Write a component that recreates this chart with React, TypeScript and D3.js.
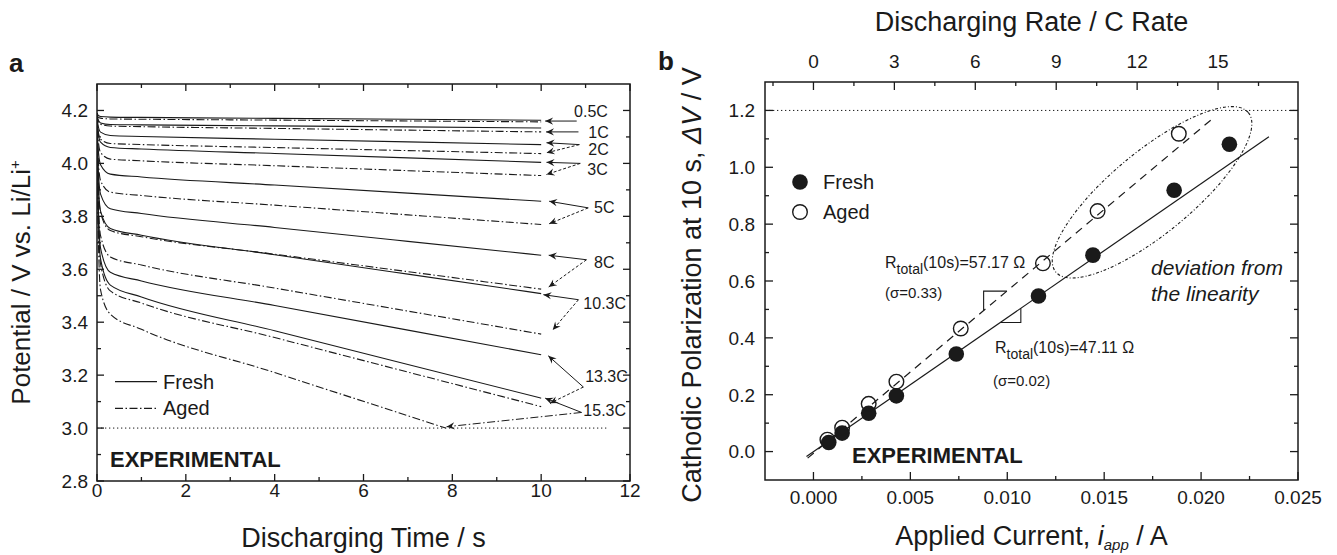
import React from "react";
import * as d3 from "d3";

// ---------------- Panel a data ----------------
const TIMES = [0, 0.02, 0.08, 0.3, 1, 4, 7, 10];
const RATE_LABELS = ["0.5C", "1C", "2C", "3C", "5C", "8C", "10.3C", "13.3C", "15.3C"];
const FRESH_V = [
  [4.19, 4.183, 4.177, 4.175, 4.1738, 4.1702, 4.1666, 4.163],
  [4.19, 4.168, 4.153, 4.147, 4.1457, 4.1418, 4.1379, 4.134],
  [4.19, 4.148, 4.118, 4.1052, 4.1016, 4.0914, 4.0812, 4.071],
  [4.19, 4.125, 4.08, 4.0603, 4.0544, 4.0376, 4.0208, 4.004],
  [4.19, 4.07, 3.995, 3.9595, 3.9488, 3.9182, 3.8876, 3.857],
  [4.19, 4.01, 3.884, 3.8289, 3.8105, 3.758, 3.7055, 3.653],
  [4.19, 3.97, 3.82, 3.7542, 3.7285, 3.655, 3.5815, 3.508],
  [4.19, 3.9, 3.68, 3.5886, 3.556, 3.463, 3.37, 3.277],
  [4.19, 3.86, 3.639, 3.5401, 3.4955, 3.368, 3.2405, 3.113],
];
const AGED_V = [
  [4.185, 4.176, 4.171, 4.168, 4.1669, 4.1636, 4.1603, 4.157],
  [4.185, 4.163, 4.148, 4.1411, 4.1388, 4.1322, 4.1256, 4.119],
  [4.185, 4.13, 4.092, 4.0752, 4.0712, 4.0598, 4.0484, 4.037],
  [4.185, 4.1, 4.041, 4.0163, 4.0098, 3.9912, 3.9726, 3.954],
  [4.185, 4.04, 3.935, 3.8916, 3.8788, 3.8422, 3.8056, 3.769],
  [4.185, 3.96, 3.813, 3.7461, 3.723, 3.657, 3.591, 3.525],
  [4.185, 3.91, 3.727, 3.6465, 3.616, 3.529, 3.442, 3.355],
  [4.185, 3.84, 3.62, 3.5182, 3.4725, 3.342, 3.2115, 3.081],
];
const AGED_LAST_TIMES = [0, 0.02, 0.08, 0.3, 1, 4, 7, 7.85];
const AGED_LAST_V = [4.185, 3.8, 3.522, 3.4305, 3.3733, 3.2098, 3.0463, 3.0];

const CUTOFF_V = 3.0;
const CUTOFF_T_END = 11.5;

// rate label positions [t, V] (text left edge, vertical centre)
const LABEL_POS = [
  [10.74, 4.197], [11.06, 4.118], [11.06, 4.052], [11.04, 3.979], [11.19, 3.836],
  [11.19, 3.626], [10.95, 3.472], [10.99, 3.195], [10.95, 3.069],
];
const ARROW_FROM = [
  [10.8, 4.16], [10.84, 4.119], [10.86, 4.071], [10.88, 4.0], [11.06, 3.832],
  [11.02, 3.636], [10.84, 3.485], [10.95, 3.155], [10.91, 3.059],
];
const ARROW_FRESH_TO = [
  [10.09, 4.16], [10.11, 4.119], [10.12, 4.078], [10.12, 4.004], [10.18, 3.857],
  [10.17, 3.653], [10.05, 3.504], [10.16, 3.273], [10.09, 3.113],
];
const ARROW_AGED_TO: (number[] | null)[] = [
  null, null, [10.12, 4.04], [10.12, 3.958], [10.18, 3.772],
  [10.17, 3.533], [10.26, 3.371], [10.2, 3.094], [7.87, 3.005],
];

const XA_MAJOR = [0, 2, 4, 6, 8, 10, 12];
const XA_MINOR = [1, 3, 5, 7, 9, 11];
const YA_MAJOR = [2.8, 3.0, 3.2, 3.4, 3.6, 3.8, 4.0, 4.2];
const YA_MINOR = [2.9, 3.1, 3.3, 3.5, 3.7, 3.9, 4.1];

// ---------------- Panel b data ----------------
const CURRENT_FRESH = [0.00079, 0.00148, 0.00285, 0.00428, 0.00737, 0.01161, 0.01442, 0.01861, 0.02146];
const DV_FRESH = [0.032, 0.065, 0.135, 0.196, 0.343, 0.547, 0.691, 0.919, 1.081];
const CURRENT_AGED = [0.00072, 0.00148, 0.00285, 0.00428, 0.0076, 0.01184, 0.01466, 0.01885];
const DV_AGED = [0.042, 0.084, 0.168, 0.246, 0.433, 0.662, 0.846, 1.118];

const R_FRESH = 47.11;
const R_AGED = 57.17;
const B_FRESH = 0.0;
const B_AGED = -0.006;
const FIT_FRESH_RANGE = [-0.00036, 0.0235];
const FIT_AGED_RANGE = [-0.0003, 0.0205];
const TRI_FRESH_X = [0.00964, 0.0107];
const TRI_AGED_X = [0.00878, 0.00998];
const ONE_C_CURRENT = 0.0013917; // A per 1C
const LIMIT_DV = 1.2;

const ELLIPSE_CENTER = [0.01747, 0.912];

const XB_MAJOR = [0, 0.005, 0.01, 0.015, 0.02, 0.025];
const XB_MINOR = [0.0025, 0.0075, 0.0125, 0.0175, 0.0225];
const CB_MAJOR = [0, 3, 6, 9, 12, 15];
const CB_MINOR = [-1.5, 1.5, 4.5, 7.5, 10.5, 13.5, 16.5];
const YB_MAJOR = [0, 0.2, 0.4, 0.6, 0.8, 1.0, 1.2];
const YB_MINOR = [0.1, 0.3, 0.5, 0.7, 0.9, 1.1];

// ---------------- layout ----------------
const FONT = "'Liberation Sans', Arial, Helvetica, sans-serif";
const A = { left: 97, right: 630, top: 84, bottom: 481 };
const B = { left: 765, right: 1298, top: 82, bottom: 480 };

const xA = d3.scaleLinear().domain([0, 12]).range([A.left, A.right]);
const yA = d3.scaleLinear().domain([2.8, 4.3]).range([A.bottom, A.top]);
const xB = d3.scaleLinear().domain([-0.0025, 0.025]).range([B.left, B.right]);
const yB = d3.scaleLinear().domain([-0.1, 1.3]).range([B.bottom, B.top]);
const cB = d3
  .scaleLinear()
  .domain([-0.0025 / ONE_C_CURRENT, 0.025 / ONE_C_CURRENT])
  .range([B.left, B.right]);

const DASHDOT = "8,2.5,1.5,2.5";
const INK = "#1a1a1a";

function Frame({ box, xs, ys, xMaj, xMin, yMaj, yMin, topScale, topMaj, topMin, maj, min }: any) {
  const els: any[] = [];
  const sw = 1.3;
  xMaj.forEach((v: number, i: number) => {
    const x = xs(v);
    els.push(<line key={"xb" + i} x1={x} x2={x} y1={box.bottom} y2={box.bottom - maj} stroke={INK} strokeWidth={sw} />);
    if (!topScale) els.push(<line key={"xt" + i} x1={x} x2={x} y1={box.top} y2={box.top + maj} stroke={INK} strokeWidth={sw} />);
  });
  xMin.forEach((v: number, i: number) => {
    const x = xs(v);
    els.push(<line key={"xbm" + i} x1={x} x2={x} y1={box.bottom} y2={box.bottom - min} stroke={INK} strokeWidth={sw} />);
    if (!topScale) els.push(<line key={"xtm" + i} x1={x} x2={x} y1={box.top} y2={box.top + min} stroke={INK} strokeWidth={sw} />);
  });
  if (topScale) {
    topMaj.forEach((v: number, i: number) => {
      const x = topScale(v);
      els.push(<line key={"tt" + i} x1={x} x2={x} y1={box.top} y2={box.top + maj} stroke={INK} strokeWidth={sw} />);
    });
    topMin.forEach((v: number, i: number) => {
      const x = topScale(v);
      els.push(<line key={"ttm" + i} x1={x} x2={x} y1={box.top} y2={box.top + min} stroke={INK} strokeWidth={sw} />);
    });
  }
  yMaj.forEach((v: number, i: number) => {
    const y = ys(v);
    els.push(<line key={"yl" + i} x1={box.left} x2={box.left + maj} y1={y} y2={y} stroke={INK} strokeWidth={sw} />);
    els.push(<line key={"yr" + i} x1={box.right} x2={box.right - maj} y1={y} y2={y} stroke={INK} strokeWidth={sw} />);
  });
  yMin.forEach((v: number, i: number) => {
    const y = ys(v);
    els.push(<line key={"ylm" + i} x1={box.left} x2={box.left + min} y1={y} y2={y} stroke={INK} strokeWidth={sw} />);
    els.push(<line key={"yrm" + i} x1={box.right} x2={box.right - min} y1={y} y2={y} stroke={INK} strokeWidth={sw} />);
  });
  return (
    <g>
      <rect x={box.left} y={box.top} width={box.right - box.left} height={box.bottom - box.top} fill="none" stroke={INK} strokeWidth={1.5} />
      {els}
    </g>
  );
}

export default function App() {
  const lineA = d3
    .line<number[]>()
    .x((d) => xA(d[0]))
    .y((d) => yA(d[1]))
    .curve(d3.curveMonotoneX);

  const freshPaths = FRESH_V.map((vals) => lineA(TIMES.map((t, i) => [t, vals[i]])) as string);
  const agedPaths = AGED_V.map((vals) => lineA(TIMES.map((t, i) => [t, vals[i]])) as string);
  const agedLast = lineA(AGED_LAST_TIMES.map((t, i) => [t, AGED_LAST_V[i]])) as string;

  const fitF = (x: number) => R_FRESH * x + B_FRESH;
  const fitA = (x: number) => R_AGED * x + B_AGED;

  const triF = [
    [xB(TRI_FRESH_X[0]), yB(fitF(TRI_FRESH_X[0]))],
    [xB(TRI_FRESH_X[1]), yB(fitF(TRI_FRESH_X[0]))],
    [xB(TRI_FRESH_X[1]), yB(fitF(TRI_FRESH_X[1]))],
  ];
  const triA = [
    [xB(TRI_AGED_X[0]), yB(fitA(TRI_AGED_X[0]))],
    [xB(TRI_AGED_X[0]), yB(fitA(TRI_AGED_X[1]))],
    [xB(TRI_AGED_X[1]), yB(fitA(TRI_AGED_X[1]))],
  ];
  const poly = (pts: number[][]) => "M" + pts.map((p) => p.join(",")).join("L");

  const ecx = xB(ELLIPSE_CENTER[0]);
  const ecy = yB(ELLIPSE_CENTER[1]);

  return (
    <svg width={1337} height={555} style={{ position: "absolute", left: 0, top: 0, background: "#fff" }} fontFamily={FONT}>
      <defs>
        <marker id="arr" viewBox="0 0 10 10" refX="10" refY="5" markerWidth="10" markerHeight="8" markerUnits="userSpaceOnUse" orient="auto">
          <path d="M0,0.5 L10,5 L0,9.5 L3.5,5 z" fill={INK} />
        </marker>
        <clipPath id="clipA">
          <rect x={A.left} y={A.top} width={A.right - A.left} height={A.bottom - A.top} />
        </clipPath>
        <clipPath id="clipB">
          <rect x={B.left} y={B.top} width={B.right - B.left} height={B.bottom - B.top} />
        </clipPath>
      </defs>
      <rect x={0} y={0} width={1337} height={555} fill="#fff" />

      {/* ============ Panel a ============ */}
      <text x={9} y={72} fontSize={26} fontWeight="bold" fill={INK}>a</text>
      <g clipPath="url(#clipA)">
        <line x1={xA(0)} x2={xA(CUTOFF_T_END)} y1={yA(CUTOFF_V)} y2={yA(CUTOFF_V)} stroke={INK} strokeWidth={1} strokeDasharray="1.3,2.7" />
        {freshPaths.map((d, i) => (
          <path key={"f" + i} d={d} fill="none" stroke={INK} strokeWidth={1.1} />
        ))}
        {agedPaths.map((d, i) => (
          <path key={"a" + i} d={d} fill="none" stroke={INK} strokeWidth={1.1} strokeDasharray={DASHDOT} />
        ))}
        <path d={agedLast} fill="none" stroke={INK} strokeWidth={1.1} strokeDasharray={DASHDOT} />
      </g>
      <Frame box={A} xs={xA} ys={yA} xMaj={XA_MAJOR} xMin={XA_MINOR} yMaj={YA_MAJOR} yMin={YA_MINOR} maj={7} min={4} />
      {XA_MAJOR.map((v) => (
        <text key={"xal" + v} x={xA(v)} y={497} fontSize={19} textAnchor="middle" fill={INK}>{v}</text>
      ))}
      {YA_MAJOR.map((v) => (
        <text key={"yal" + v} x={A.left - 9} y={yA(v) + 6.8} fontSize={19} textAnchor="end" fill={INK}>{v.toFixed(1)}</text>
      ))}
      <text x={(A.left + A.right) / 2} y={547} fontSize={27} textAnchor="middle" fill={INK}>Discharging Time / s</text>
      <text transform={`translate(30,${(A.top + A.bottom) / 2}) rotate(-90)`} fontSize={26} textAnchor="middle" fill={INK}>
        Potential / V vs. Li/Li<tspan dy={-10} fontSize={15}>+</tspan>
      </text>

      {/* rate labels and arrows */}
      {RATE_LABELS.map((lab, i) => {
        const from = ARROW_FROM[i];
        const tf = ARROW_FRESH_TO[i];
        const ta = ARROW_AGED_TO[i];
        return (
          <g key={"lab" + i}>
            <text x={xA(LABEL_POS[i][0])} y={yA(LABEL_POS[i][1]) + 5.7} fontSize={16} fill={INK}>{lab}</text>
            <line x1={xA(from[0])} y1={yA(from[1])} x2={xA(tf[0])} y2={yA(tf[1])} stroke={INK} strokeWidth={1} markerEnd="url(#arr)" />
            {ta && (
              <line x1={xA(from[0])} y1={yA(from[1])} x2={xA(ta[0])} y2={yA(ta[1])} stroke={INK} strokeWidth={1} strokeDasharray={i === 8 ? DASHDOT : "3,2"} markerEnd="url(#arr)" />
            )}
          </g>
        );
      })}

      {/* legend a */}
      <line x1={115} x2={157} y1={381.7} y2={381.7} stroke={INK} strokeWidth={1.2} />
      <text x={163} y={388.7} fontSize={20} fill={INK}>Fresh</text>
      <line x1={115} x2={157} y1={408.3} y2={408.3} stroke={INK} strokeWidth={1.2} strokeDasharray={DASHDOT} />
      <text x={163} y={415.3} fontSize={20} fill={INK}>Aged</text>
      <text x={110} y={467} fontSize={22} fontWeight="bold" fill={INK}>EXPERIMENTAL</text>

      {/* ============ Panel b ============ */}
      <text x={658} y={70} fontSize={26} fontWeight="bold" fill={INK}>b</text>
      <g clipPath="url(#clipB)">
        <line x1={B.left} x2={B.right} y1={yB(LIMIT_DV)} y2={yB(LIMIT_DV)} stroke={INK} strokeWidth={1} strokeDasharray="1.3,2.7" />
        <line x1={xB(FIT_FRESH_RANGE[0])} y1={yB(fitF(FIT_FRESH_RANGE[0]))} x2={xB(FIT_FRESH_RANGE[1])} y2={yB(fitF(FIT_FRESH_RANGE[1]))} stroke={INK} strokeWidth={1.2} />
        <line x1={xB(FIT_AGED_RANGE[0])} y1={yB(fitA(FIT_AGED_RANGE[0]))} x2={xB(FIT_AGED_RANGE[1])} y2={yB(fitA(FIT_AGED_RANGE[1]))} stroke={INK} strokeWidth={1.2} strokeDasharray="8,6" />
        <path d={poly(triF)} fill="none" stroke={INK} strokeWidth={1.1} />
        <path d={poly(triA)} fill="none" stroke={INK} strokeWidth={1.1} />
        <ellipse cx={ecx} cy={ecy} rx={125} ry={41} transform={`rotate(-39.6 ${ecx} ${ecy})`} fill="none" stroke={INK} strokeWidth={1.1} strokeDasharray="3,2,1,2" />
        {CURRENT_FRESH.map((c, i) => (
          <circle key={"pf" + i} cx={xB(c)} cy={yB(DV_FRESH[i])} r={7.8} fill={INK} />
        ))}
        {CURRENT_AGED.map((c, i) => (
          <circle key={"pa" + i} cx={xB(c)} cy={yB(DV_AGED[i])} r={7.3} fill="none" stroke={INK} strokeWidth={1.4} />
        ))}
      </g>
      <Frame box={B} xs={xB} ys={yB} xMaj={XB_MAJOR} xMin={XB_MINOR} yMaj={YB_MAJOR} yMin={YB_MINOR} topScale={cB} topMaj={CB_MAJOR} topMin={CB_MINOR} maj={8} min={4} />
      {XB_MAJOR.map((v) => (
        <text key={"xbl" + v} x={xB(v)} y={504} fontSize={19} textAnchor="middle" fill={INK}>{v.toFixed(3)}</text>
      ))}
      {CB_MAJOR.map((v) => (
        <text key={"cbl" + v} x={cB(v)} y={68} fontSize={19} textAnchor="middle" fill={INK}>{v}</text>
      ))}
      {YB_MAJOR.map((v) => (
        <text key={"ybl" + v} x={B.left - 10} y={yB(v) + 6.8} fontSize={19} textAnchor="end" fill={INK}>{v.toFixed(1)}</text>
      ))}
      <text x={(B.left + B.right) / 2} y={31} fontSize={27} textAnchor="middle" fill={INK}>Discharging Rate / C Rate</text>
      <text x={(B.left + B.right) / 2} y={545} fontSize={27} textAnchor="middle" fill={INK}>
        Applied Current, <tspan fontStyle="italic">i</tspan>
        <tspan fontStyle="italic" fontSize={15} dy={5}>app</tspan>
        <tspan dy={-5}> / A</tspan>
      </text>
      <text transform={`translate(701,${(B.top + B.bottom) / 2 + 4}) rotate(-90)`} fontSize={27} textAnchor="middle" fill={INK}>
        Cathodic Polarization at 10 s, <tspan fontStyle="italic">ΔV</tspan> / V
      </text>

      {/* legend b */}
      <circle cx={800} cy={182} r={7.8} fill={INK} />
      <text x={823} y={189} fontSize={20} fill={INK}>Fresh</text>
      <circle cx={800} cy={212} r={7.3} fill="none" stroke={INK} strokeWidth={1.4} />
      <text x={823} y={219} fontSize={20} fill={INK}>Aged</text>

      {/* annotations b */}
      <text x={885} y={268} fontSize={16} fill={INK}>
        R<tspan fontSize={14} dy={6}>total</tspan>
        <tspan dy={-6}>(10s)=57.17 Ω</tspan>
      </text>
      <text x={885} y={298} fontSize={15} fill={INK}>(σ=0.33)</text>
      <text x={995} y={353} fontSize={16} fill={INK}>
        R<tspan fontSize={14} dy={6}>total</tspan>
        <tspan dy={-6}>(10s)=47.11 Ω</tspan>
      </text>
      <text x={993} y={386} fontSize={15} fill={INK}>(σ=0.02)</text>
      <text x={1151} y={275} fontSize={21} fontStyle="italic" fill={INK}>deviation from</text>
      <text x={1151} y={301} fontSize={21} fontStyle="italic" fill={INK}>the linearity</text>
      <text x={852} y={463} fontSize={22} fontWeight="bold" fill={INK}>EXPERIMENTAL</text>
    </svg>
  );
}
